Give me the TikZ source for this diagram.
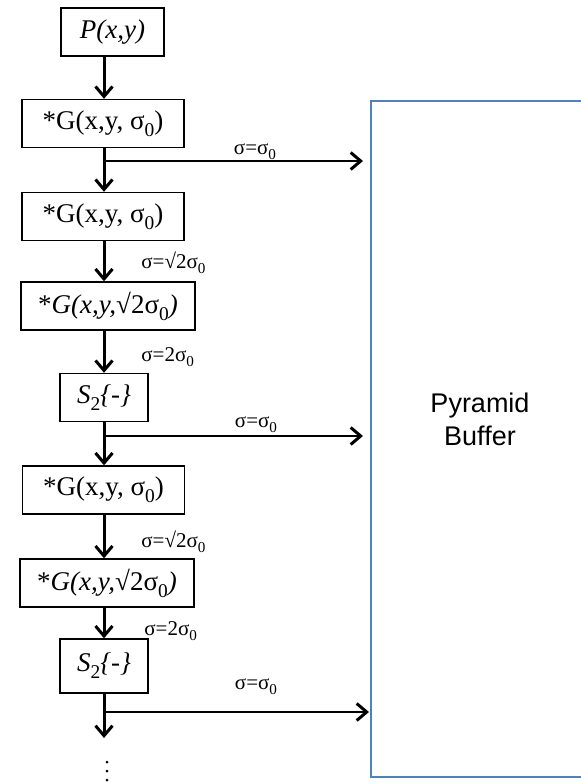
\documentclass[tikz,border=0pt]{standalone}
\usepackage{fontspec}
\setmainfont{Liberation Serif}
\newfontfamily\arialfont{Liberation Sans}
\usetikzlibrary{arrows.meta}
\definecolor{bufblue}{HTML}{4F81BD}
\newcommand{\lowidx}[1]{\raisebox{-0.55ex}{\scalebox{0.72}{#1}}}
\newcommand{\szero}{σ\lowidx{0}}
\tikzset{
  box/.style={draw, line width=0.7pt, minimum height=24pt, inner sep=2pt,
    font=\fontsize{13.5}{15}\selectfont},
  lbl/.style={font=\fontsize{10.5}{12}\selectfont, inner sep=0pt},
  flow/.style={line width=1.5pt, -{Straight Barb[length=5pt,width=8.5pt,line width=1.5pt]}},
  feed/.style={line width=1.1pt, -{Straight Barb[length=5pt,width=8.5pt,line width=1.5pt]}},
}

\begin{document}
\begin{tikzpicture}[x=0.5pt, y=-0.5pt]
	\useasboundingbox (0,0) rectangle (581,783);
	\clip (0,0) rectangle (581,783);
	% buffer on the right
	\draw[bufblue, line width=0.75pt] (371,101) rectangle (640,777);
	\node[font=\arialfont\fontsize{13.5}{16.5}\selectfont, align=center] (buf) at (480,419) {Pyramid\\Buffer};
	\coordinate (spine) at (104,0);
	% the chain of filters
	\node[box, minimum width=51.5pt] (P) at (112.5,32) {\textit{P(x,y)}};
	\node[box, minimum width=81pt] (G1) at (103,123.5) {*G(x,y, \szero)};
	\node[box, minimum width=81pt] (G2) at (103,216.5) {*G(x,y, \szero)};
	\node[box, minimum width=87pt] (G3) at (108,306) {*\textit{G(x,y,}√2\szero\textit{)}};
	\node[box, minimum width=44pt] (S1) at (104,397.5) {\textit{S}\lowidx{2}\textit{\{-\}}};
	\node[box, minimum width=81pt] (G4) at (103.5,490) {*G(x,y, \szero)};
	\node[box, minimum width=87pt] (G5) at (107,583) {*\textit{G(x,y,}√2\szero\textit{)}};
	\node[box, minimum width=44pt, minimum height=27pt] (S2) at (104,666) {\textit{S}\lowidx{2}\textit{\{-\}}};
	\draw[flow] (P.south -| spine) -- (G1.north -| spine);
	\draw[flow] (G1.south -| spine) -- (G2.north -| spine);
	\draw[flow] (G2.south -| spine) -- (G3.north -| spine);
	\draw[flow] (G3.south -| spine) -- (S1.north -| spine);
	\draw[flow] (S1.south -| spine) -- (G4.north -| spine);
	\draw[flow] (G4.south -| spine) -- (G5.north -| spine);
	\draw[flow] (G5.south -| spine) -- (S2.north -| spine);
	\coordinate (more) at (104,738);
	\draw[flow] (S2.south -| spine) -- (more);
	% outputs to the buffer
	\coordinate (b1) at (104,161);
	\coordinate (t1) at (363,161);
	\coordinate (b2) at (104,436);
	\coordinate (t2) at (363,436);
	\coordinate (b3) at (104,712);
	\coordinate (t3) at (369,712);
	\draw[feed] (b1) -- (t1);
	\draw[feed] (b2) -- (t2);
	\draw[feed] (b3) -- (t3);
	\node[lbl] (s1) at (255,152) {σ=\szero};
	\node[lbl] (s2) at (256,425) {σ=\szero};
	\node[lbl] (s3) at (256,687) {σ=\szero};
	\node[lbl, anchor=west] (r1) at (141,263) {σ=√2\szero};
	\node[lbl, anchor=west] (d1) at (141,357) {σ=2\szero};
	\node[lbl, anchor=west] (r2) at (141,542) {σ=√2\szero};
	\node[lbl, anchor=west] (d2) at (144,631) {σ=2\szero};
	\foreach \y in {762,771,780}
		\fill (107,\y) circle (1.5);
\end{tikzpicture}
\end{document}
